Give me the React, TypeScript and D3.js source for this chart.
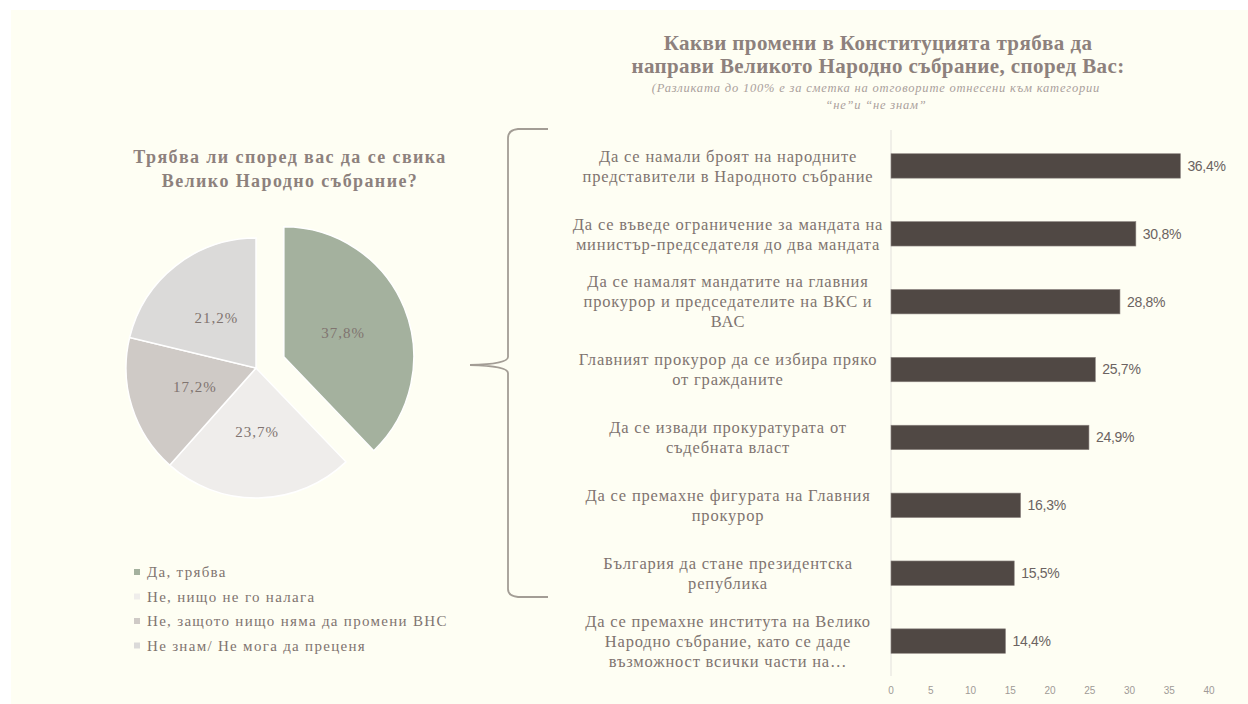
import React from 'react';
import * as d3 from 'd3';

// left pie
const pieTitle = ['Трябва  ли според вас да се свика', 'Велико Народно събрание?'];
const pieLabels = [
  'Да, трябва',
  'Не, нищо не го налага',
  'Не, защото нищо няма да промени ВНС',
  'Не знам/ Не мога да преценя',
];
const pieValues = [37.8, 23.7, 17.2, 21.2];
const pieColors = ['#a4b19e', '#efedeb', '#cfcac6', '#dbdad9'];

// right bars
const barTitle = ['Какви промени в Конституцията трябва да', 'направи Великото Народно събрание, според Вас:'];
const barNote = ['(Разликата до 100% е за сметка на отговорите отнесени към категории', '“не”и “не знам”'];
const barCategories = [
  ['Да се намали броят на народните', 'представители в Народното събрание'],
  ['Да се въведе ограничение за мандата на', 'министър-председателя до два мандата'],
  ['Да се намалят мандатите на главния', 'прокурор и председателите на ВКС и', 'ВАС'],
  ['Главният прокурор да се избира пряко', 'от гражданите'],
  ['Да се извади прокуратурата от', 'съдебната власт'],
  ['Да се премахне фигурата на Главния', 'прокурор'],
  ['България да стане президентска', 'република'],
  ['Да се премахне института на Велико', 'Народно събрание, като се даде', 'възможност всички части на…'],
];
const barValues = [36.4, 30.8, 28.8, 25.7, 24.9, 16.3, 15.5, 14.4];
const xTicks = [0, 5, 10, 15, 20, 25, 30, 35, 40];

const serif = '"Liberation Serif", "Times New Roman", serif';
const sans = '"Liberation Sans", Arial, sans-serif';
const textGray = '#807470';
const titleGray = '#8d817d';

const PieChart = () => {
  const cx = 256;
  const cy = 368;
  const r = 130;
  const pie = d3.pie<number>().sort(null).value(d => d);
  const arcs = pie(pieValues);
  const arc = d3.arc<d3.PieArcDatum<number>>().innerRadius(0).outerRadius(r);
  const labelArc = d3.arc<d3.PieArcDatum<number>>().innerRadius(64).outerRadius(64);

  return (
    <g>
      {pieTitle.map((t, i) => (
        <text key={i} x={290} y={163 + i * 24} textAnchor="middle" fontFamily={serif}
          fontWeight="bold" fontSize={18} letterSpacing={1.4} fill={titleGray}>{t}</text>
      ))}
      {arcs.map((a, i) => {
        const mid = (a.startAngle + a.endAngle) / 2;
        const off = i === 0 ? 30 : 0;
        const dx = Math.sin(mid) * off;
        const dy = -Math.cos(mid) * off;
        const [lx, ly] = labelArc.centroid(a);
        return (
          <g key={i} transform={`translate(${cx + dx},${cy + dy})`}>
            <path d={arc(a) || ''} fill={pieColors[i]} stroke="#ffffff" strokeWidth={1.5} />
            <text x={lx} y={ly} dy="0.35em" textAnchor="middle" fontFamily={serif}
              fontSize={15} letterSpacing={1} fill={textGray}>{pieValues[i].toFixed(1).replace('.', ',')}%</text>
          </g>
        );
      })}
      {pieLabels.map((l, i) => (
        <g key={i} transform={`translate(134,${572 + i * 24.5})`}>
          <rect x={0} y={-3} width={6} height={6} fill={pieColors[i]} />
          <text x={13} y={0} dy="0.35em" fontFamily={serif} fontSize={15} letterSpacing={1.3} fill={textGray}>{l}</text>
        </g>
      ))}
    </g>
  );
};

const BarChart = () => {
  const x = d3.scaleLinear().domain([0, 40]).range([891, 1209]);
  const y = d3.scaleBand<number>().domain(d3.range(barValues.length)).range([132, 675]).paddingInner(0.64).paddingOuter(0.32);
  const bw = y.bandwidth();
  const lineH = 20;

  return (
    <g>
      {barTitle.map((t, i) => (
        <text key={i} x={878} y={50 + i * 23} textAnchor="middle" fontFamily={serif}
          fontWeight="bold" fontSize={21} letterSpacing={0.4} fill={titleGray}>{t}</text>
      ))}
      {barNote.map((t, i) => (
        <text key={i} x={876} y={92 + i * 17} textAnchor="middle" fontFamily={serif}
          fontStyle="italic" fontSize={12.5} letterSpacing={0.8} fill="#aaa09c">{t}</text>
      ))}
      <line x1={x(0)} x2={x(0)} y1={130} y2={676} stroke="#e2e0dc" strokeWidth={1} />
      {barValues.map((v, i) => {
        const yc = (y(i) as number) + bw / 2;
        const lines = barCategories[i];
        const y0 = yc - ((lines.length - 1) * lineH) / 2;
        return (
          <g key={i}>
            <rect x={x(0)} y={y(i)} width={x(v) - x(0)} height={bw} fill="#504844" stroke="#8c8480" strokeWidth={0.6} />
            <text x={x(v) + 7} y={yc} dy="0.35em" fontFamily={sans} fontSize={14} letterSpacing={-0.3} fill="#6b6361">
              {v.toFixed(1).replace('.', ',')}%
            </text>
            {lines.map((l, j) => (
              <text key={j} x={728} y={y0 + j * lineH} dy="0.35em" textAnchor="middle"
                fontFamily={serif} fontSize={16.5} letterSpacing={0.8} fill={textGray}>{l}</text>
            ))}
          </g>
        );
      })}
      {xTicks.map(t => (
        <text key={t} x={x(t)} y={690} dy="0.35em" textAnchor="middle" fontFamily={sans}
          fontSize={10} fill="#a09a96">{t}</text>
      ))}
    </g>
  );
};

const Brace = () => {
  const path = d3.path();
  path.moveTo(548, 129);
  path.lineTo(518, 129);
  path.quadraticCurveTo(508, 130, 508, 138);
  path.lineTo(508, 357);
  path.quadraticCurveTo(508, 364, 470, 365);
  path.quadraticCurveTo(508, 366, 508, 373);
  path.lineTo(508, 589);
  path.quadraticCurveTo(508, 596, 518, 597);
  path.lineTo(548, 597);
  return <path d={path.toString()} fill="none" stroke="#a39d95" strokeWidth={1.8} />;
};

export default function App() {
  return (
    <svg width={1248} height={704} style={{ position: 'absolute', left: 0, top: 0 }}>
      <rect x={0} y={0} width={1248} height={704} fill="#ffffff" />
      <rect x={11} y={10} width={1237} height={694} fill="#fefef3" />
      <PieChart />
      <Brace />
      <BarChart />
    </svg>
  );
}
